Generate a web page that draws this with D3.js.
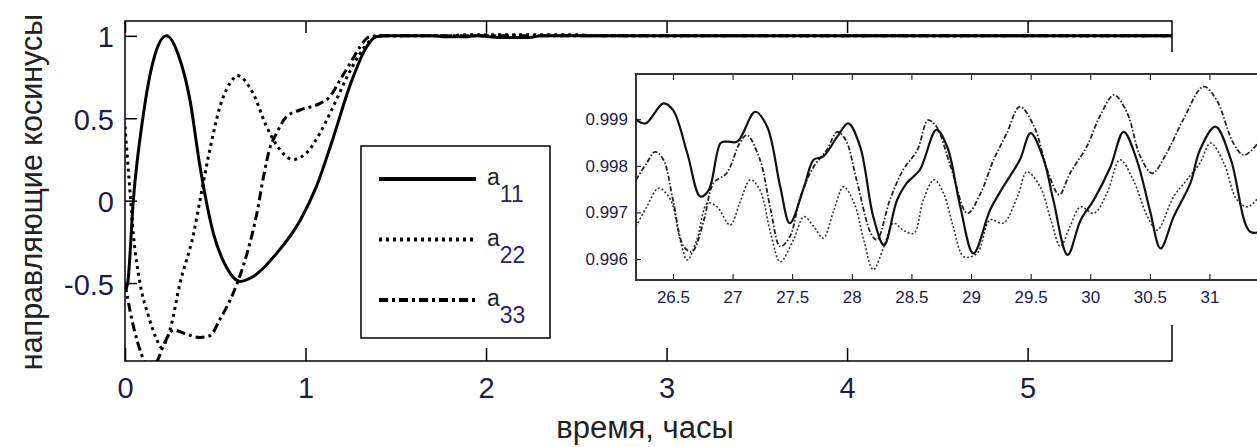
<!DOCTYPE html>
<html>
<head>
<meta charset="utf-8">
<script src="https://cdn.jsdelivr.net/npm/d3@7"></script>
<style>
  body { margin: 0; background: #fff; }
  svg { display: block; }
</style>
</head>
<body>
<svg id="chart"></svg>
<script>
// main plot: direction cosines vs time, hours  [t, value]
var a11Main = [[0,-0.55],[0.015,-0.5],[0.046,0.0],[0.10,0.51],[0.157,0.85],[0.23,1.0],[0.30,0.87],
  [0.36,0.61],[0.415,0.21],[0.49,-0.2],[0.56,-0.4],[0.637,-0.49],[0.71,-0.46],[0.84,-0.32],
  [0.97,-0.12],[1.06,0.085],[1.15,0.37],[1.25,0.71],[1.34,0.935],[1.39,0.995],[1.45,1.0],
  [1.7,1.0],[1.78,0.994],[1.88,0.994],[1.95,1.0],[2.08,0.99],[2.24,0.99],[2.3,1.0],[5.8,1.0]];
var a22Main = [[0,0.45],[0.028,0.05],[0.046,-0.2],[0.083,-0.5],[0.13,-0.7],[0.175,-0.84],[0.20,-0.89],
  [0.25,-0.78],[0.305,-0.5],[0.38,-0.2],[0.415,0.0],[0.47,0.31],[0.526,0.57],[0.6,0.74],[0.62,0.76],
  [0.71,0.65],[0.784,0.45],[0.858,0.31],[0.93,0.25],[1.006,0.29],[1.08,0.41],[1.153,0.57],
  [1.23,0.75],[1.30,0.89],[1.357,0.97],[1.42,1.0],[1.8,1.0],[1.9,1.006],[2.5,1.006],[2.6,1.0],[5.8,1.0]];
var a33Main = [[0,-0.5],[0.03,-0.68],[0.07,-0.86],[0.11,-0.98],[0.14,-1.02],[0.18,-0.97],[0.22,-0.86],
  [0.27,-0.785],[0.34,-0.81],[0.415,-0.83],[0.47,-0.82],[0.526,-0.72],[0.6,-0.56],[0.676,-0.32],
  [0.73,-0.08],[0.77,0.16],[0.80,0.31],[0.84,0.41],[0.895,0.51],[0.97,0.55],[1.08,0.59],
  [1.135,0.63],[1.19,0.73],[1.246,0.83],[1.30,0.93],[1.357,0.995],[1.42,1.0],[5.8,1.0]];

// inset: zoom on 26.2 .. 31.4 hours
var a11Inset = [[26.19,0.99899],[26.27,0.99891],[26.42,0.99934],[26.5,0.9992],[26.62,0.99827],
  [26.73,0.99734],[26.8,0.99748],[26.9,0.99849],[26.95,0.99852],[27.04,0.99852],[27.19,0.99916],
  [27.29,0.99884],[27.40,0.99755],[27.48,0.99677],[27.6,0.99755],[27.68,0.99813],[27.76,0.9982],
  [27.88,0.99863],[27.97,0.99891],[28.07,0.99841],[28.18,0.99691],[28.27,0.9963],[28.38,0.99727],
  [28.46,0.99763],[28.57,0.99791],[28.71,0.99877],[28.80,0.99841],[28.91,0.99712],[29.02,0.99612],
  [29.16,0.99705],[29.27,0.99755],[29.41,0.99813],[29.50,0.9987],[29.61,0.99813],[29.69,0.99727],
  [29.81,0.99609],[29.92,0.99684],[30.03,0.99727],[30.17,0.99798],[30.28,0.99873],[30.39,0.99813],
  [30.50,0.99705],[30.59,0.99623],[30.70,0.99691],[30.84,0.99763],[30.92,0.99834],[31.05,0.99884],
  [31.18,0.99813],[31.34,0.99659],[31.45,0.9966]];
var a22Inset = [[26.19,0.9967],[26.28,0.99712],[26.38,0.99752],[26.48,0.99727],[26.56,0.99641],
  [26.62,0.99598],[26.70,0.99641],[26.79,0.9972],[26.87,0.99712],[26.98,0.99673],[27.06,0.9972],
  [27.15,0.9977],[27.23,0.99748],[27.32,0.99655],[27.40,0.99594],[27.51,0.99641],[27.6,0.99691],
  [27.68,0.9967],[27.76,0.99645],[27.85,0.99705],[27.93,0.99755],[28.02,0.9972],[28.10,0.99641],
  [28.18,0.99577],[28.27,0.99627],[28.35,0.99677],[28.43,0.99662],[28.52,0.99655],[28.60,0.99727],
  [28.69,0.9977],[28.77,0.99741],[28.85,0.9967],[28.94,0.99605],[29.05,0.99612],[29.16,0.99684],
  [29.27,0.99677],[29.39,0.99734],[29.47,0.99787],[29.58,0.99755],[29.67,0.99684],[29.75,0.99627],
  [29.83,0.9967],[29.92,0.99712],[30.03,0.99698],[30.14,0.99741],[30.25,0.99813],[30.36,0.9977],
  [30.48,0.99691],[30.56,0.99662],[30.70,0.99734],[30.81,0.9977],[30.92,0.99806],[31.01,0.99849],
  [31.12,0.99806],[31.23,0.99727],[31.32,0.99712],[31.45,0.99745]];
var a33Inset = [[26.19,0.9977],[26.28,0.99806],[26.35,0.9983],[26.42,0.99813],[26.5,0.99727],
  [26.59,0.99627],[26.66,0.99616],[26.76,0.99684],[26.84,0.99763],[26.95,0.99784],[27.06,0.99849],
  [27.12,0.99866],[27.23,0.99813],[27.32,0.99705],[27.40,0.99627],[27.48,0.99648],[27.57,0.99734],
  [27.68,0.99798],[27.79,0.99834],[27.88,0.99873],[27.95,0.99855],[28.04,0.9977],[28.16,0.99655],
  [28.21,0.99641],[28.32,0.99727],[28.43,0.99791],[28.55,0.99834],[28.64,0.99898],[28.71,0.99884],
  [28.83,0.99798],[28.97,0.99698],[29.08,0.99741],[29.19,0.99813],[29.30,0.9987],[29.41,0.99927],
  [29.53,0.99884],[29.64,0.99791],[29.74,0.99738],[29.83,0.99784],[29.97,0.99841],[30.08,0.99906],
  [30.20,0.99952],[30.31,0.99913],[30.42,0.9982],[30.52,0.99784],[30.64,0.99827],[30.78,0.99899],
  [30.95,0.9997],[31.06,0.99941],[31.20,0.99849],[31.29,0.99823],[31.45,0.99862]];

var mainXTicks = [0, 1, 2, 3, 4, 5];
var mainYTicks = [-0.5, 0, 0.5, 1];
var insetXTicks = [26.5, 27, 27.5, 28, 28.5, 29, 29.5, 30, 30.5, 31];
var insetYTicks = [0.996, 0.997, 0.998, 0.999];
var legendNames = ["11", "22", "33"];

var W = 1257, H = 447;
var font = "'Liberation Sans', Arial, sans-serif";
var labelColor = "#1c1c4a";

var svg = d3.select("#chart").attr("width", W).attr("height", H);
svg.append("rect").attr("width", W).attr("height", H).attr("fill", "#fff");

// ---------- main plot ----------
var x = d3.scaleLinear().domain([0, 5.8]).range([125, 1172]);
var y = d3.scaleLinear().domain([-0.973, 1.09]).range([361, 21]);

svg.append("clipPath").attr("id", "mainClip")
  .append("rect").attr("x", 125).attr("y", 21).attr("width", 1047).attr("height", 340);

function styleAxis(g, size) {
  g.attr("font-family", font).attr("font-size", size);
  g.select(".domain").remove();
  g.selectAll(".tick line").attr("stroke", "#000").attr("stroke-width", 1.5);
  g.selectAll(".tick text").attr("fill", labelColor);
}
var plain = d => String(d);

svg.append("g").attr("transform", "translate(0,361)")
  .call(d3.axisBottom(x).tickValues(mainXTicks).tickSize(-13).tickPadding(16).tickFormat(plain))
  .call(styleAxis, 29);
svg.append("g").attr("transform", "translate(0,21)")
  .call(d3.axisTop(x).tickValues(mainXTicks).tickSize(-12).tickFormat(""))
  .call(styleAxis, 29);
svg.append("g").attr("transform", "translate(125,0)")
  .call(d3.axisLeft(y).tickValues(mainYTicks).tickSize(-12).tickPadding(11).tickFormat(plain))
  .call(styleAxis, 29)
  .selectAll(".tick text").attr("dy", "0.38em");
svg.append("g").attr("transform", "translate(1172,0)")
  .call(d3.axisRight(y).tickValues(mainYTicks).tickSize(-12).tickFormat(""))
  .call(styleAxis, 29);

svg.append("rect").attr("x", 125).attr("y", 21).attr("width", 1047).attr("height", 340)
  .attr("fill", "none").attr("stroke", "#000").attr("stroke-width", 1.5);

var lineMain = d3.line().x(d => x(d[0])).y(d => y(d[1])).curve(d3.curveMonotoneX);
var styles = [
  { data: a11Main, dash: null },
  { data: a22Main, dash: "3,4" },
  { data: a33Main, dash: "9,4,3,4" }
];
var curves = svg.append("g").attr("clip-path", "url(#mainClip)");
styles.forEach(function(s) {
  curves.append("path").datum(s.data)
    .attr("d", lineMain).attr("fill", "none").attr("stroke", "#000")
    .attr("stroke-width", 3).attr("stroke-dasharray", s.dash);
});

svg.append("text").attr("x", 645).attr("y", 438).attr("text-anchor", "middle")
  .attr("font-family", font).attr("font-size", 31).attr("fill", "#222").text("время, часы");
svg.append("text").attr("transform", "translate(42,192) rotate(-90)").attr("text-anchor", "middle")
  .attr("font-family", font).attr("font-size", 30.5).attr("fill", "#222").text("направляющие косинусы");

// ---------- legend ----------
var legend = svg.append("g");
legend.append("rect").attr("x", 361).attr("y", 146).attr("width", 189).attr("height", 192)
  .attr("fill", "#fff").attr("stroke", "#000").attr("stroke-width", 1.5);
styles.forEach(function(s, i) {
  var ly = 179 + i * 60.5;
  legend.append("line").attr("x1", 379).attr("x2", 476).attr("y1", ly).attr("y2", ly)
    .attr("stroke", "#000").attr("stroke-width", 4).attr("stroke-dasharray", s.dash);
  var t = legend.append("text").attr("x", 487).attr("y", ly + 6)
    .attr("font-family", font).attr("font-size", 23).attr("fill", "#222");
  t.append("tspan").text("a");
  t.append("tspan").attr("dy", 17).attr("fill", "#2c1f6e").text(legendNames[i]);
});

// ---------- inset ----------
var xi = d3.scaleLinear().domain([26.19, 31.6]).range([636, 1281]);
var yi = d3.scaleLinear().domain([0.99555, 0.99997]).range([280, 74]);

svg.append("rect").attr("x", 572).attr("y", 52).attr("width", 700).attr("height", 273).attr("fill", "#fff");
svg.append("clipPath").attr("id", "insetClip")
  .append("rect").attr("x", 636).attr("y", 74).attr("width", 645).attr("height", 206);

svg.append("g").attr("transform", "translate(0,280)")
  .call(d3.axisBottom(xi).tickValues(insetXTicks).tickSize(-6).tickPadding(11).tickFormat(plain))
  .call(styleAxis, 17)
  .selectAll(".tick line").attr("stroke-width", 1);
svg.append("g").attr("transform", "translate(0,74)")
  .call(d3.axisTop(xi).tickValues(insetXTicks).tickSize(-6).tickFormat(""))
  .call(styleAxis, 17)
  .selectAll(".tick line").attr("stroke-width", 1);
svg.append("g").attr("transform", "translate(636,0)")
  .call(d3.axisLeft(yi).tickValues(insetYTicks).tickSize(-5).tickPadding(8).tickFormat(d3.format(".3f")))
  .call(styleAxis, 17)
  .selectAll(".tick line").attr("stroke-width", 1);

svg.append("path").attr("d", "M1281,74H636V280H1281")
  .attr("fill", "none").attr("stroke", "#333").attr("stroke-width", 2);

var lineInset = d3.line().x(d => xi(d[0])).y(d => yi(d[1])).curve(d3.curveCatmullRom.alpha(0.5));
var insetCurves = svg.append("g").attr("clip-path", "url(#insetClip)");
[
  { data: a22Inset, dash: "2,2", w: 1.6, c: "#333" },
  { data: a33Inset, dash: "5,2,1.5,2", w: 1.8, c: "#222" },
  { data: a11Inset, dash: null, w: 2.2, c: "#111" }
].forEach(function(s) {
  insetCurves.append("path").datum(s.data)
    .attr("d", lineInset).attr("fill", "none").attr("stroke", s.c)
    .attr("stroke-width", s.w).attr("stroke-dasharray", s.dash);
});
</script>
</body>
</html>
